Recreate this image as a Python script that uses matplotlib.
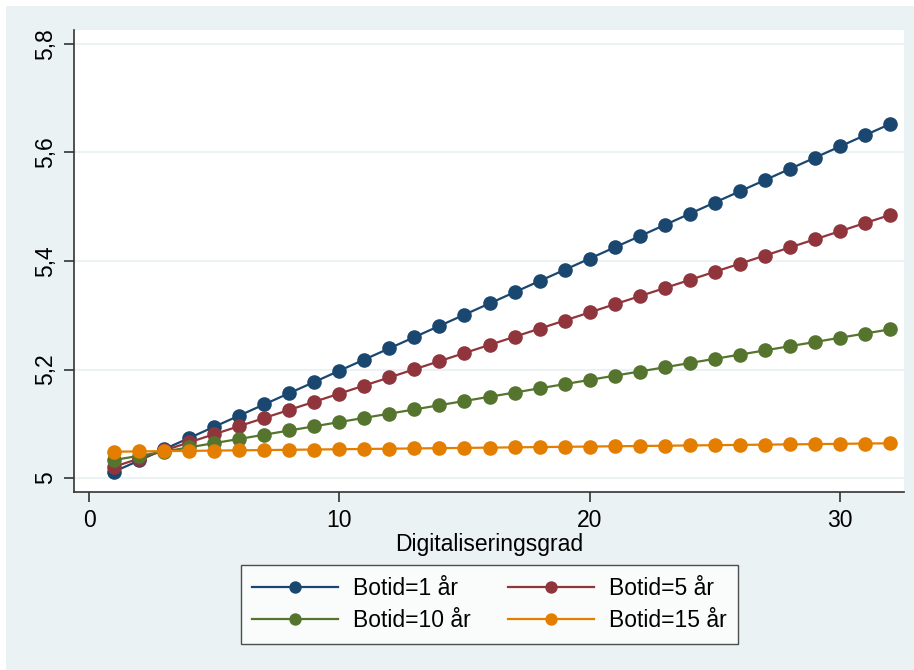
import matplotlib
matplotlib.use("Agg")
import matplotlib.pyplot as plt
from matplotlib.patches import Rectangle
from matplotlib.ticker import FuncFormatter

plt.rcParams['font.family'] = ['Liberation Sans', 'DejaVu Sans']

x = list(range(1, 33))
botid_1 = [5.0117, 5.0323, 5.0530, 5.0737, 5.0944, 5.1150, 5.1357, 5.1564, 5.1770, 5.1977,
           5.2184, 5.2390, 5.2597, 5.2804, 5.3011, 5.3217, 5.3424, 5.3631, 5.3837, 5.4044,
           5.4251, 5.4457, 5.4664, 5.4871, 5.5078, 5.5284, 5.5491, 5.5698, 5.5904, 5.6111,
           5.6318, 5.6524]
botid_5 = [5.0208, 5.0357, 5.0507, 5.0657, 5.0807, 5.0956, 5.1106, 5.1256, 5.1405, 5.1555,
           5.1705, 5.1854, 5.2004, 5.2154, 5.2304, 5.2453, 5.2603, 5.2753, 5.2902, 5.3052,
           5.3202, 5.3351, 5.3501, 5.3651, 5.3801, 5.3950, 5.4100, 5.4250, 5.4399, 5.4549,
           5.4699, 5.4848]
botid_10 = [5.0332, 5.0409, 5.0487, 5.0565, 5.0643, 5.0720, 5.0798, 5.0876, 5.0953, 5.1031,
            5.1109, 5.1186, 5.1264, 5.1342, 5.1420, 5.1497, 5.1575, 5.1653, 5.1730, 5.1808,
            5.1886, 5.1963, 5.2041, 5.2119, 5.2197, 5.2274, 5.2352, 5.2430, 5.2507, 5.2585,
            5.2663, 5.2740]
botid_15 = [5.0485, 5.0490, 5.0495, 5.0500, 5.0505, 5.0510, 5.0515, 5.0520, 5.0525, 5.0530,
            5.0535, 5.0540, 5.0545, 5.0550, 5.0555, 5.0560, 5.0565, 5.0570, 5.0575, 5.0580,
            5.0585, 5.0590, 5.0595, 5.0600, 5.0605, 5.0610, 5.0615, 5.0620, 5.0625, 5.0630,
            5.0635, 5.0640]

series = [botid_1, botid_5, botid_10, botid_15]
labels = ["Botid=1 år", "Botid=5 år", "Botid=10 år", "Botid=15 år"]
colors = ["#1a476f", "#90353b", "#55752f", "#e37e00"]
x_ticks = [0, 10, 20, 30]
y_ticks = [5.0, 5.2, 5.4, 5.6, 5.8]
x_title = "Digitaliseringsgrad"

FS = 16.5
W, H = 914, 670
fig = plt.figure(figsize=(W / 100, H / 100), dpi=100)
fig.patch.set_facecolor("white")
fig.patches.append(Rectangle((6 / W, 0), 1 - 6 / W, 1 - 6 / H, transform=fig.transFigure,
                             facecolor="#eaf2f3", edgecolor="none", zorder=-10))

ax = fig.add_axes([74 / W, (H - 492) / H, (904 - 74) / W, (492 - 30) / H])
ax.set_facecolor("white")

handles = []
for s, lab, c in zip(series, labels, colors):
    h, = ax.plot(x, s, color=c, lw=1.6, marker="o", markersize=10.5,
                 markeredgewidth=0, label=lab, zorder=3)
    handles.append(h)

ax.set_xlim(-0.6, 32.56)
ax.set_ylim(4.9742, 5.8258)
ax.set_xticks(x_ticks)
ax.set_yticks(y_ticks)
fmt = FuncFormatter(lambda v, p: ("%g" % round(v, 1)).replace(".", ","))
ax.yaxis.set_major_formatter(fmt)
ax.xaxis.set_major_formatter(FuncFormatter(lambda v, p: "%d" % v))
ax.grid(axis="y", color="#eaf2f3", lw=1.5, zorder=0)
ax.set_axisbelow(True)
for sp in ["top", "right"]:
    ax.spines[sp].set_visible(False)
for sp in ["left", "bottom"]:
    ax.spines[sp].set_color("#333333")
    ax.spines[sp].set_linewidth(1.2)
ax.tick_params(axis="both", length=7, width=1.2, color="#333333", labelsize=FS, pad=5)
for lab in ax.get_yticklabels():
    lab.set_rotation(90)
    lab.set_va("center")
ax.set_xlabel(x_title, fontsize=FS, labelpad=1)

order = [0, 2, 1, 3]
leg = fig.legend(handles=[handles[i] for i in order], labels=[labels[i] for i in order],
                 ncol=2, loc="center",
                 bbox_to_anchor=((237 + 742) / 2 / W, 1 - (567 + 642) / 2 / H),
                 frameon=True, fontsize=FS, handlelength=3.75, handletextpad=0.65,
                 columnspacing=1.65, borderpad=0.5, labelspacing=0.4, fancybox=False,
                 markerscale=0.85)
leg.get_frame().set_edgecolor("#222222")
leg.get_frame().set_linewidth(1.0)
leg.get_frame().set_facecolor("white")

fig.savefig("out.png", dpi=100, facecolor=fig.get_facecolor())
